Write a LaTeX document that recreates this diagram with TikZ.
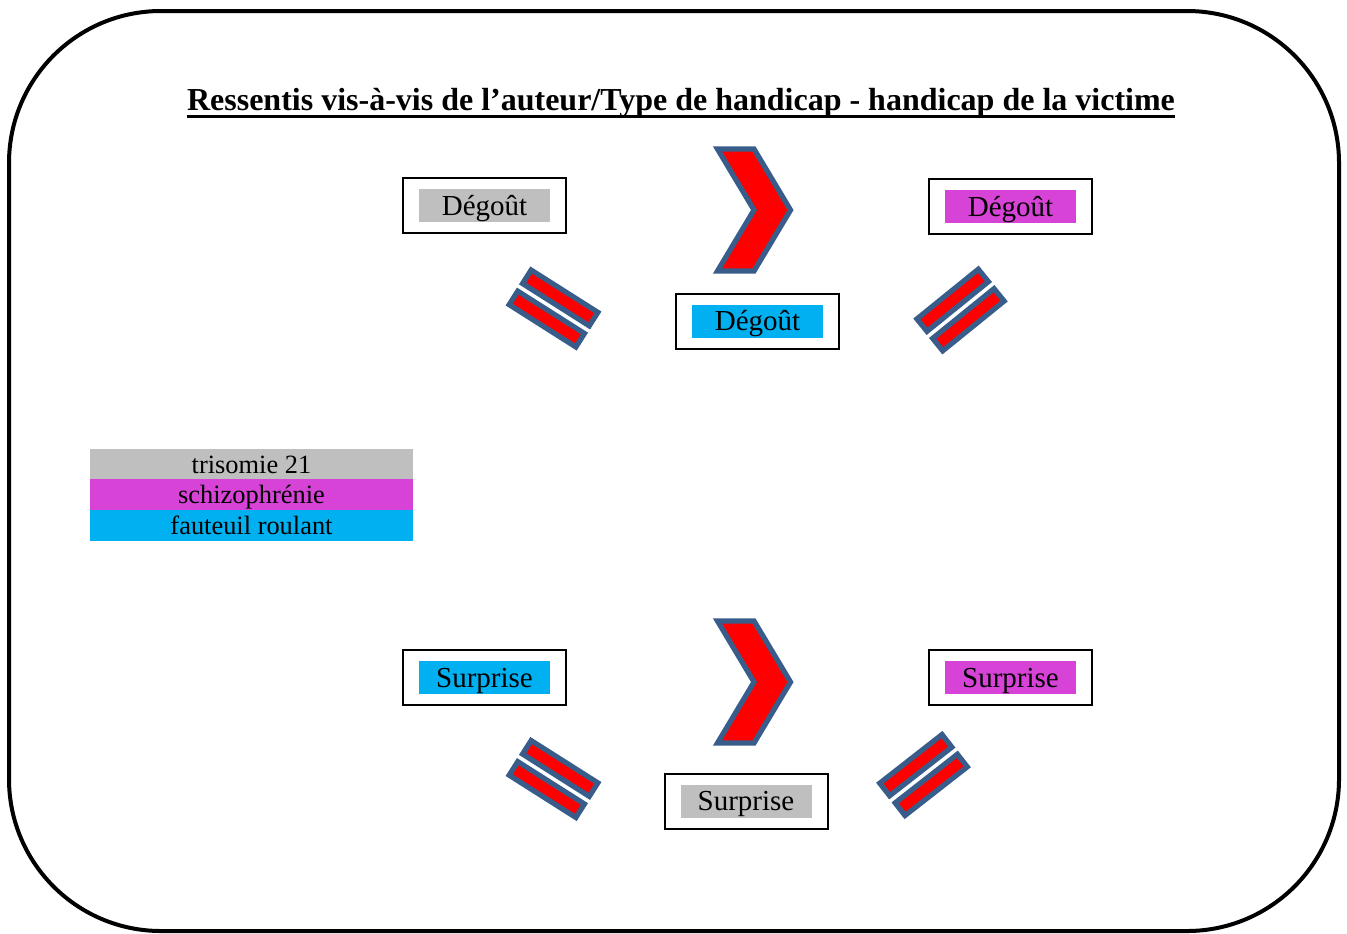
\documentclass[tikz,border=0pt]{standalone}
\usepackage{fontspec}
\setmainfont{Liberation Serif}
\usepackage{tikz}
\usetikzlibrary{positioning}
\definecolor{gristri}{RGB}{191,191,191}
\definecolor{magschizo}{RGB}{214,67,214}
\definecolor{cyanfauteuil}{RGB}{0,176,240}
\definecolor{contour}{RGB}{56,93,138}
\definecolor{rouge}{RGB}{255,0,0}

\begin{document}
\begin{tikzpicture}[x=0.5pt,y=0.5pt,
		cadre/.style={draw=black,line width=1pt,minimum width=81.5pt,minimum height=27.5pt,inner sep=0pt},
		etiquette/.style={minimum width=65.5pt,minimum height=16.5pt,inner sep=0pt,text height=9.5pt,text depth=0pt,font=\fontsize{14.5}{17}\selectfont},
		legende/.style={minimum width=161.5pt,minimum height=15.4pt,inner sep=0pt,outer sep=0pt,text height=9pt,text depth=0pt,font=\fontsize{13.2}{15}\selectfont},
		forme/.style={draw=contour,fill=rouge,line width=2.6pt}]
			\useasboundingbox (0,0) rectangle (1347,-933);
			\draw[line width=2pt,rounded corners=76pt] (9,-11) rectangle (1339,-931);
			
			% titre
			\node[inner sep=0pt,anchor=base,font=\fontsize{16}{19}\selectfont\bfseries] (titre) at (681,-110)
				{Ressentis vis-à-vis de l’auteur/Type de handicap - handicap de la victime};
			\draw[line width=1.5pt] ([yshift=-3pt]titre.base west) -- ([yshift=-3pt]titre.base east);
			
			% ligne du haut : degout
			\node[cadre] (cadreA) at (484.5,-205.5) {};
			\node[etiquette,fill=gristri] (degoutA) at (cadreA) {Dégoût};
			\node[cadre] (cadreB) at (757.5,-321) {};
			\node[etiquette,fill=cyanfauteuil] (degoutB) at (cadreB) {Dégoût};
			\node[cadre] (cadreC) at (1010.5,-206.5) {};
			\node[etiquette,fill=magschizo] (degoutC) at (cadreC) {Dégoût};
			
			% ligne du bas : surprise
			\node[cadre] (cadreD) at (484.5,-677.5) {};
			\node[etiquette,fill=cyanfauteuil] (surpriseD) at (cadreD) {Surprise};
			\node[cadre] (cadreE) at (746,-801) {};
			\node[etiquette,fill=gristri] (surpriseE) at (cadreE) {Surprise};
			\node[cadre] (cadreF) at (1010.5,-677.5) {};
			\node[etiquette,fill=magschizo] (surpriseF) at (cadreF) {Surprise};
			
			% legende
			\node[legende,fill=gristri] (leg1) at (251.5,-464) {trisomie 21};
			\node[legende,fill=magschizo,below=0pt of leg1] (leg2) {schizophrénie};
			\node[legende,fill=cyanfauteuil,below=0pt of leg2] (leg3) {fauteuil roulant};
			
			% chevrons
			\foreach \dy in {0,472}{
				\draw[forme] (717.5,-149-\dy) -- (754,-149-\dy) -- (790.5,-210-\dy) -- (754,-271-\dy)
					-- (717.5,-271-\dy) -- (754,-210-\dy) -- cycle;
			}
			
			% signes egal
			\foreach \cx/\cy/\ang in {553.5/308.5/-32.4, 960.5/310/39, 553.5/779/-32.4, 923.5/775/38}{
				\begin{scope}[shift={(\cx,-\cy)},rotate=\ang]
					\draw[forme] (-39.5,4.5) rectangle (39.5,20.5);
					\draw[forme] (-39.5,-4.5) rectangle (39.5,-20.5);
				\end{scope}
			}
		\end{tikzpicture}
\end{document}
